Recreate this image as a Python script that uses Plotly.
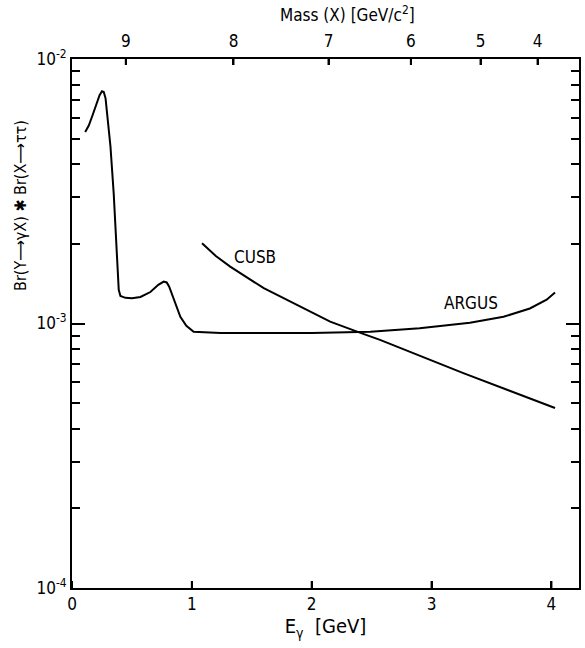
import plotly.graph_objects as go

# ARGUS upper limit curve (E_gamma [GeV], Br*Br)
argus_e = [0.11, 0.14, 0.17, 0.20, 0.23, 0.25, 0.265, 0.28, 0.30, 0.321, 0.348, 0.376,
           0.39, 0.404, 0.446, 0.50, 0.571, 0.654, 0.72, 0.765, 0.79, 0.81, 0.86, 0.904,
           0.954, 1.015, 1.24, 1.6, 2.0, 2.49, 2.9, 3.32, 3.6, 3.82, 3.96, 4.03]
argus_v = [5.3e-3, 5.6e-3, 6.1e-3, 6.7e-3, 7.3e-3, 7.55e-3, 7.5e-3, 7.1e-3, 5.6e-3, 4.67e-3,
           3.1e-3, 1.74e-3, 1.34e-3, 1.27e-3, 1.25e-3, 1.245e-3, 1.26e-3, 1.315e-3, 1.40e-3,
           1.44e-3, 1.43e-3, 1.38e-3, 1.195e-3, 1.06e-3, 9.8e-4, 9.3e-4, 9.2e-4, 9.2e-4,
           9.2e-4, 9.3e-4, 9.6e-4, 1.007e-3, 1.06e-3, 1.14e-3, 1.23e-3, 1.31e-3]

# CUSB upper limit curve
cusb_e = [1.085, 1.2, 1.32, 1.6, 1.877, 2.154, 2.418, 2.57, 3.265, 4.03]
cusb_v = [2.01e-3, 1.8e-3, 1.64e-3, 1.36e-3, 1.175e-3, 1.016e-3, 9.18e-4, 8.67e-4, 6.49e-4, 4.79e-4]

# axes
x_ticks = [0, 1, 2, 3, 4]
y_major = [1e-4, 1e-3, 1e-2]
y_major_text = ["10<sup>-4</sup>", "10<sup>-3</sup>", "10<sup>-2</sup>"]
y_minor = [m * 10 ** d for d in (-4, -3) for m in range(2, 10)]
mass_ticks = [9, 8, 7, 6, 5, 4]
M_UPSILON = 9.46
mass_tick_e = [(M_UPSILON ** 2 - m ** 2) / (2 * M_UPSILON) for m in mass_ticks]

FONT = "DejaVu Sans Condensed, Liberation Sans Narrow, DejaVu Sans, sans-serif"
XR = [0, 4.23]
YR = [-4, -2]
PLOT_H = 648 - 59 - 60          # plot-area height in px
BOTTOM_TICK_PX = 7
TOP_TICK_PX = 6

fig = go.Figure()
fig.add_trace(go.Scatter(x=argus_e, y=argus_v, mode="lines",
                         line=dict(color="black", width=2), showlegend=False))
fig.add_trace(go.Scatter(x=cusb_e, y=cusb_v, mode="lines",
                         line=dict(color="black", width=2), showlegend=False))
# invisible trace to activate top / right axes
fig.add_trace(go.Scatter(x=[mass_tick_e[0]], y=[1e-3], xaxis="x2", yaxis="y2",
                         mode="markers", marker=dict(opacity=0), showlegend=False,
                         hoverinfo="skip"))

tick_common = dict(ticks="inside", tickwidth=2, tickcolor="black", showgrid=False,
                   zeroline=False, automargin=False)

fig.update_layout(
    width=585, height=648,
    margin=dict(l=72, r=6, t=59, b=60),
    paper_bgcolor="white", plot_bgcolor="white",
    font=dict(family=FONT, size=17, color="black"),
    xaxis=dict(range=XR, tickvals=x_ticks, ticklen=7, showline=True, linewidth=2,
               linecolor="black",
               title=dict(text="E<sub>γ</sub>  [GeV]", standoff=6), **tick_common),
    xaxis2=dict(range=XR, overlaying="x", side="top", anchor="y2", tickvals=mass_tick_e,
                ticktext=[str(m) for m in mass_ticks], ticklen=6, showline=True,
                linewidth=2, linecolor="black", ticklabelstandoff=3, **tick_common),
    yaxis=dict(type="log", range=YR, tickvals=y_major, ticktext=y_major_text,
               ticklen=13, showline=True, linewidth=2, linecolor="black",
               minor=dict(tickvals=y_minor, ticks="inside", ticklen=8,
                          tickwidth=2, tickcolor="black", showgrid=False),
               **tick_common),
    yaxis2=dict(type="log", range=YR, overlaying="y", side="right", anchor="x2",
                tickvals=y_major, showticklabels=False,
                ticklen=13, showline=True, linewidth=2, linecolor="black",
                minor=dict(tickvals=y_minor, ticks="inside", ticklen=8,
                           tickwidth=2, tickcolor="black", showgrid=False),
                **tick_common),
)

# inward tick marks on bottom (E_gamma) and top (mass) axes, drawn above everything
for t in x_ticks:
    fig.add_shape(type="line", xref="x", yref="paper", x0=t, x1=t,
                  y0=0, y1=BOTTOM_TICK_PX / PLOT_H, layer="above",
                  line=dict(color="black", width=2))
for t in mass_tick_e:
    fig.add_shape(type="line", xref="x", yref="paper", x0=t, x1=t,
                  y0=1, y1=1 - TOP_TICK_PX / PLOT_H, layer="above",
                  line=dict(color="black", width=2))

fig.add_annotation(text="Mass (X) [GeV/c<sup>2</sup>]", xref="paper", yref="paper",
                   x=(347 - 72) / 507, y=(588 - 14) / 529, showarrow=False,
                   xanchor="center", yanchor="middle")
fig.add_annotation(text="Br(Υ⟶γX) ✱ Br(X⟶ττ)", xref="paper", yref="paper",
                   x=-0.1026, y=0.724, textangle=-90, showarrow=False,
                   font=dict(size=16), xanchor="center", yanchor="middle")
fig.add_annotation(text="CUSB", x=1.53, y=-2.749, showarrow=False)
fig.add_annotation(text="ARGUS", x=3.33, y=-2.9225, showarrow=False)

fig.write_html("out.html", config={"displayModeBar": False},
               post_script="document.body.style.margin='0';document.body.style.padding='0';")
